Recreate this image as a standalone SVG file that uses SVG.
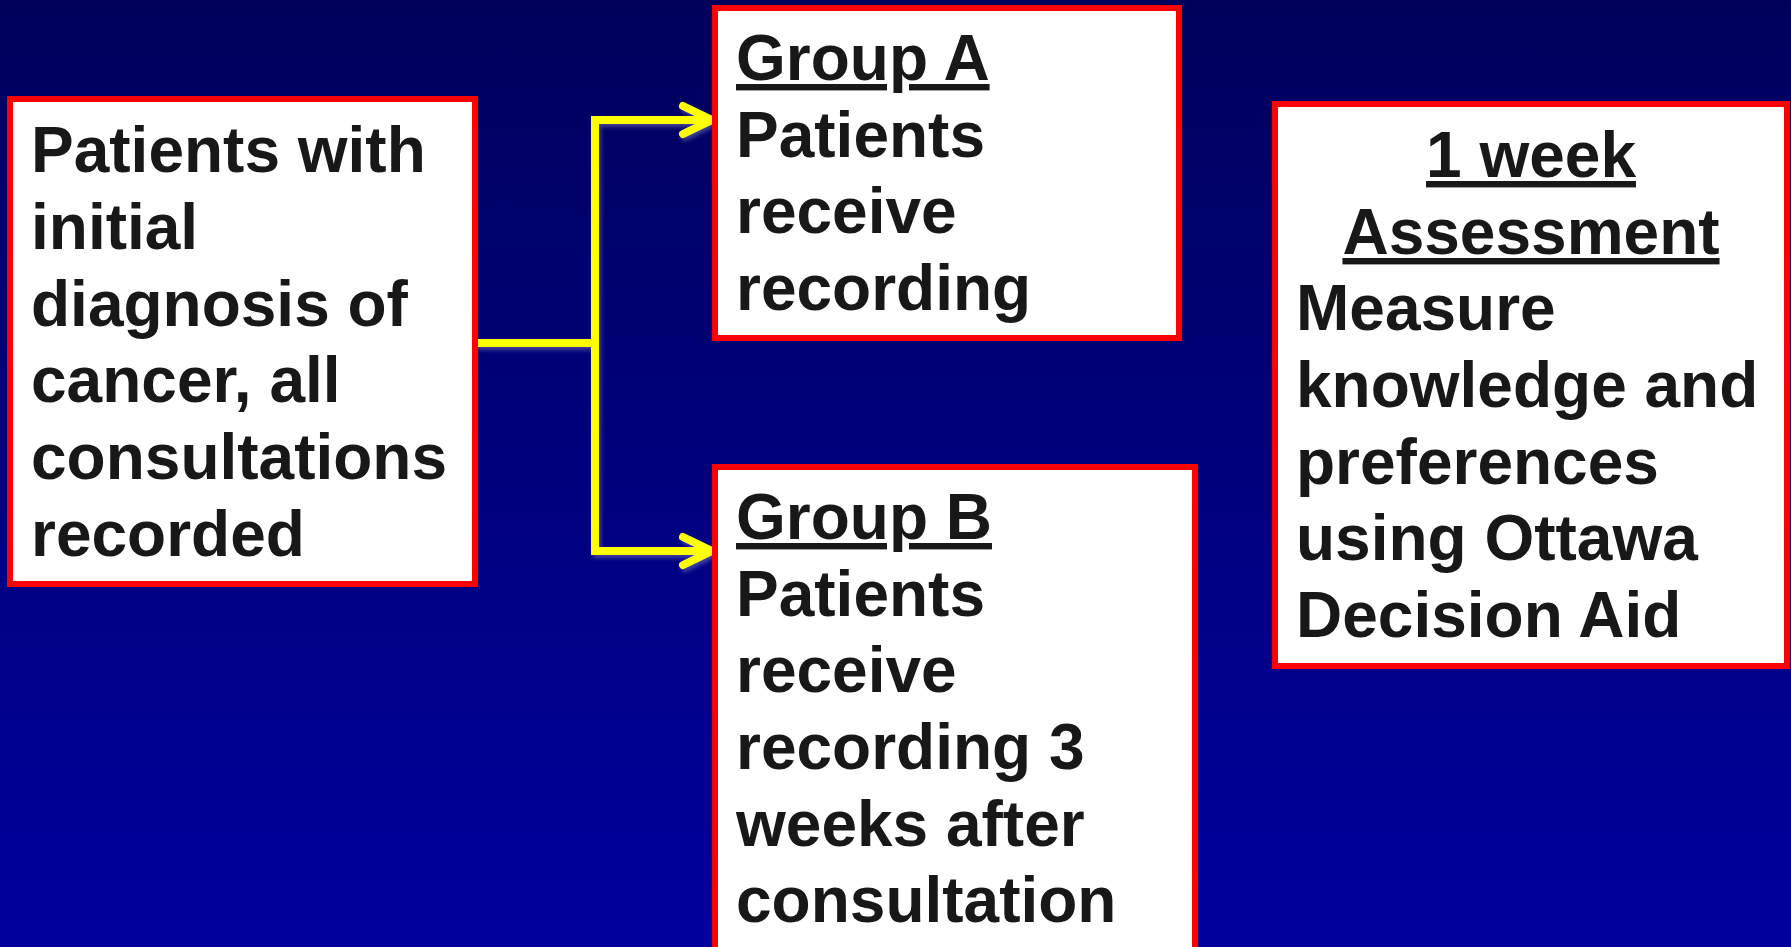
<svg xmlns="http://www.w3.org/2000/svg" width="1791" height="947" viewBox="0 0 1791 947">
  <style>
    .box { fill: #ffffff; stroke: #ff0000; stroke-width: 6; }
    .txt { font-family: "Liberation Sans", Arial, sans-serif; font-weight: bold; font-size: 64px; fill: #181818; }
    .ul { text-decoration: underline; }
    .conn { fill: none; stroke: #ffff00; stroke-width: 8; stroke-linecap: round; stroke-linejoin: miter; }
    .head { fill: none; stroke: #ffff00; stroke-width: 8; stroke-linecap: round; stroke-linejoin: round; }
  </style>
  <defs>
    <linearGradient id="bg" x1="0" y1="0" x2="0" y2="1">
      <stop offset="0" stop-color="#00005c"/>
      <stop offset="1" stop-color="#00009e"/>
    </linearGradient>
    <filter id="glow" x="-10%" y="-10%" width="120%" height="120%">
      <feDropShadow dx="2" dy="3" stdDeviation="2" flood-color="#9090d0" flood-opacity="0.45"/>
    </filter>
  </defs>

  <rect x="0" y="0" width="1791" height="947" fill="url(#bg)"/>

  <g id="connectors" filter="url(#glow)">
    <path class="conn" d="M478,343 H595"/>
    <path class="conn" d="M712,120 H595 V551 H712" stroke-linecap="butt"/>
    <path class="head" d="M683,106 L712,120 L683,134"/>
    <path class="head" d="M683,537 L712,551 L683,565"/>
  </g>

  <g id="node-patients">
    <rect class="box" x="10" y="99" width="465" height="485"/>
    <text class="txt" x="31" y="172">Patients with</text>
    <text class="txt" x="31" y="249">initial</text>
    <text class="txt" x="31" y="326">diagnosis of</text>
    <text class="txt" x="31" y="402">cancer, all</text>
    <text class="txt" x="31" y="479">consultations</text>
    <text class="txt" x="31" y="556">recorded</text>
  </g>

  <g id="node-group-a">
    <rect class="box" x="715" y="8" width="464" height="330"/>
    <text class="txt ul" x="736" y="80">Group A</text>
    <text class="txt" x="736" y="157">Patients</text>
    <text class="txt" x="736" y="233">receive</text>
    <text class="txt" x="736" y="310">recording</text>
  </g>

  <g id="node-group-b">
    <rect class="box" x="715" y="467" width="480" height="500"/>
    <text class="txt ul" x="736" y="539">Group B</text>
    <text class="txt" x="736" y="616">Patients</text>
    <text class="txt" x="736" y="692">receive</text>
    <text class="txt" x="736" y="769">recording 3</text>
    <text class="txt" x="736" y="846">weeks after</text>
    <text class="txt" x="736" y="922">consultation</text>
  </g>

  <g id="node-assessment">
    <rect class="box" x="1275" y="104" width="512" height="562"/>
    <text class="txt ul" x="1531" y="177" text-anchor="middle">1 week</text>
    <text class="txt ul" x="1531" y="254" text-anchor="middle">Assessment</text>
    <text class="txt" x="1296" y="330">Measure</text>
    <text class="txt" x="1296" y="407">knowledge and</text>
    <text class="txt" x="1296" y="484">preferences</text>
    <text class="txt" x="1296" y="560">using Ottawa</text>
    <text class="txt" x="1296" y="637">Decision Aid</text>
  </g>
</svg>
